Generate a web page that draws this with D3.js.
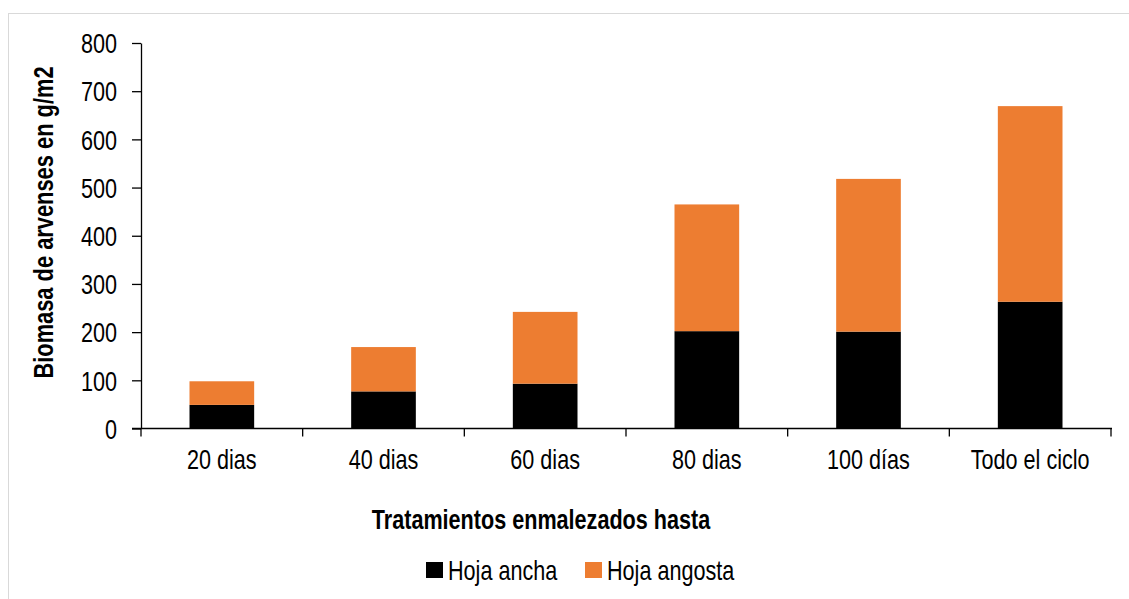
<!DOCTYPE html>
<html>
<head>
<meta charset="utf-8">
<script src="https://cdn.jsdelivr.net/npm/d3@7"></script>
<style>
  html, body { margin: 0; padding: 0; background: #fff; }
  svg { display: block; }
  .lbl { font-family: "Liberation Sans", Arial, sans-serif; }
</style>
</head>
<body>
<svg id="chart" width="1129" height="599"></svg>
<script>
// Weed biomass (g/m2) by weedy-period treatment, split by leaf type
const categories = ["20 dias", "40 dias", "60 dias", "80 dias", "100 días", "Todo el ciclo"];
const hojaAncha   = [49, 77, 93, 202, 201, 263];
const hojaAngosta = [49, 92, 149, 263, 317, 406];
const seriesNames = ["Hoja ancha", "Hoja angosta"];
const seriesColors = ["#000000", "#ED7D31"];
const yTicks = [0, 100, 200, 300, 400, 500, 600, 700, 800];

// Horizontal squeeze that gives the sans face a condensed look
const SQ = 0.8;

const svg = d3.select("#chart");

// Outer chart frame
svg.append("rect")
  .attr("x", 8.5).attr("y", 13.5)
  .attr("width", 1200).attr("height", 700)
  .attr("fill", "none").attr("stroke", "#d9d9d9").attr("stroke-width", 1);

const x0 = 141, x1 = 1111, yBase = 428.5, yTop = 43;

const x = d3.scaleBand().domain(categories).range([x0, x1]).paddingInner(0.6).paddingOuter(0.3);
const y = d3.scaleLinear().domain([0, 800]).range([yBase, yTop]);

const rows = categories.map((c, i) => ({ cat: c, "Hoja ancha": hojaAncha[i], "Hoja angosta": hojaAngosta[i] }));
const stacked = d3.stack().keys(seriesNames)(rows);

const g = svg.append("g");
stacked.forEach((layer, li) => {
  g.append("g").attr("fill", seriesColors[li])
    .selectAll("rect").data(layer).join("rect")
    .attr("x", d => x(d.data.cat))
    .attr("width", x.bandwidth())
    .attr("y", d => y(d[1]))
    .attr("height", d => y(d[0]) - y(d[1]));
});

// Text helper: positioned by transform so it can be squeezed horizontally
function label(parent, px, py, str, opts = {}) {
  const rot = opts.rotate ? ` rotate(${opts.rotate})` : "";
  return parent.append("text").attr("class", "lbl")
    .attr("transform", `translate(${px},${py})${rot} scale(${opts.sq || SQ},1)`)
    .attr("text-anchor", opts.anchor || "start")
    .attr("font-size", opts.size || 27)
    .attr("font-weight", opts.weight || "normal")
    .attr("fill", "#000")
    .text(str);
}

// Y axis
const yAxis = svg.append("g")
  .attr("transform", `translate(${x0},0)`)
  .call(d3.axisLeft(y).tickValues(yTicks).tickSize(9).tickPadding(15).tickSizeOuter(0));
yAxis.select(".domain").attr("stroke", "#000").attr("stroke-width", 1.3);
yAxis.selectAll(".tick line").attr("stroke", "#000").attr("stroke-width", 1.3);
yAxis.selectAll(".tick text")
  .attr("class", "lbl").attr("font-size", 27).attr("fill", "#000")
  .attr("x", null).attr("dy", null)
  .attr("transform", `translate(-24,9.7) scale(${SQ},1)`);

// X axis with category boundary ticks
const xAxis = svg.append("g").attr("transform", `translate(0,${yBase})`);
xAxis.append("line").attr("x1", x0 - 9).attr("x2", x1 + 1).attr("y1", 0).attr("y2", 0)
  .attr("stroke", "#000").attr("stroke-width", 1.3);
const step = x.step();
const bounds = d3.range(categories.length + 1).map(i => x(categories[0]) - x.paddingOuter() * step + i * step);
xAxis.selectAll("line.b").data(bounds).join("line").attr("class", "b")
  .attr("x1", d => d).attr("x2", d => d).attr("y1", 0).attr("y2", 8)
  .attr("stroke", "#000").attr("stroke-width", 1.3);
categories.forEach(c => label(xAxis, x(c) + x.bandwidth() / 2, 40.5, c, { anchor: "middle" }));

// Axis titles
label(svg, 53, 222.5, "Biomasa de arvenses en g/m2", { anchor: "middle", size: 27, weight: "bold", rotate: -90, sq: 0.81 });
label(svg, 541, 529, "Tratamientos enmalezados hasta", { anchor: "middle", size: 27, weight: "bold" });

// Legend
const legendX = [426, 585];
const leg = svg.append("g");
seriesNames.forEach((name, i) => {
  leg.append("rect").attr("x", legendX[i]).attr("y", 562).attr("width", 17).attr("height", 16)
    .attr("fill", seriesColors[i]);
  label(leg, legendX[i] + 22, 580, name);
});
</script>
</body>
</html>
